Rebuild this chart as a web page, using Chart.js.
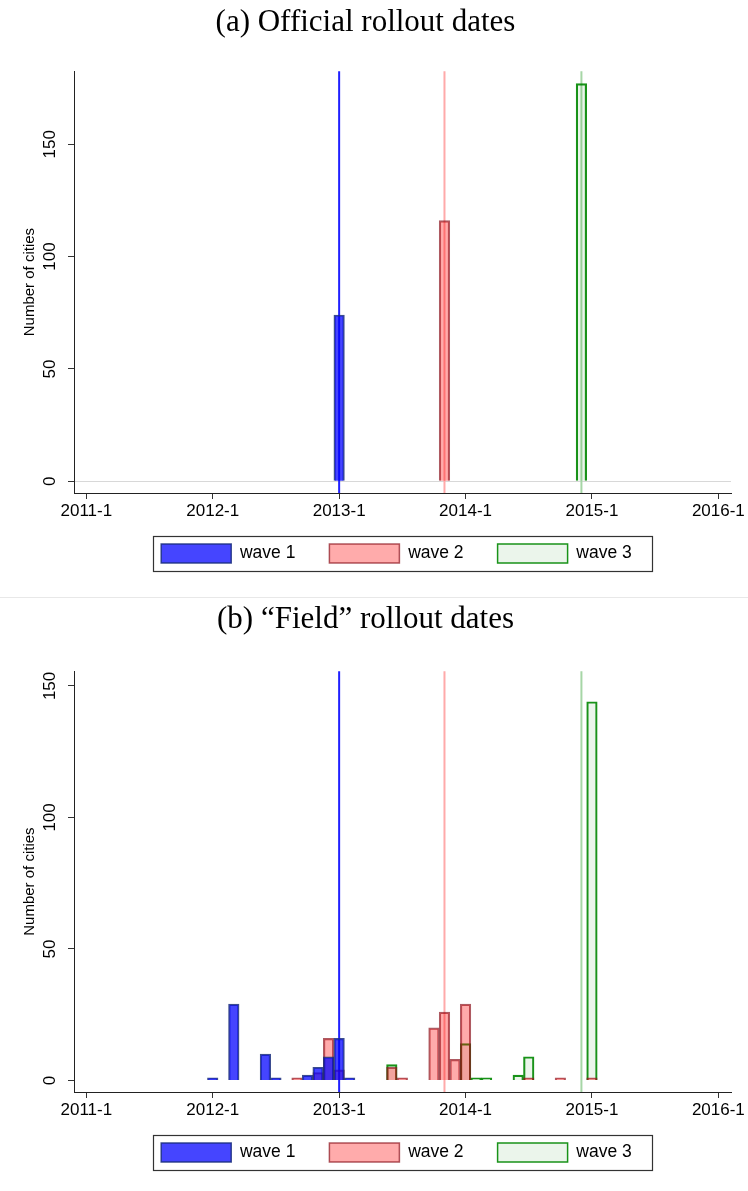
<!DOCTYPE html>
<html>
<head>
<meta charset="utf-8">
<script src="https://cdn.jsdelivr.net/npm/chart.js@4.4.1/dist/chart.umd.min.js"></script>
<style>
  html, body { margin: 0; padding: 0; background: #fff; }
  #panelA { position: absolute; left: 0; top: 0; }
  #panelB { position: absolute; left: 0; top: 597px; border-top: 1px solid #e8e8e8; }
  canvas { display: block; }
</style>
</head>
<body>
<div id="panelA"><canvas id="chartA" width="748" height="597"></canvas></div>
<div id="panelB"><canvas id="chartB" width="748" height="593"></canvas></div>
<script>
// wave names, axis ticks and the official start month of each wave
const waveNames = ["wave 1", "wave 2", "wave 3"];
const yearTicks = ["2011-1", "2012-1", "2013-1", "2014-1", "2015-1", "2016-1"];
const yTicks = [0, 50, 100, 150];
const waveStart = ["2013-1", "2013-11", "2014-12"];

// (a) official rollout dates
const officialMonths = ["2013-1", "2013-11", "2014-12"];
const officialCounts = [74, 116, 177];

// (b) "field" rollout dates, one pair of arrays per wave
const field1Months = ["2012-1", "2012-3", "2012-6", "2012-7", "2012-10", "2012-11", "2012-12", "2013-1", "2013-2"];
const field1Counts = [1, 29, 10, 1, 2, 5, 9, 16, 1];
const field2Months = ["2012-9", "2012-11", "2012-12", "2013-1", "2013-6", "2013-7", "2013-10", "2013-11", "2013-12", "2014-1", "2014-7", "2014-10", "2015-1"];
const field2Counts = [1, 3, 16, 4, 5, 1, 20, 26, 8, 29, 1, 1, 1];
const field3Months = ["2013-6", "2014-1", "2014-2", "2014-3", "2014-6", "2014-7", "2015-1"];
const field3Counts = [6, 14, 1, 1, 2, 9, 144];

const fills = ["rgba(0,0,255,0.73)", "rgba(255,0,0,0.33)", "rgba(0,128,0,0.08)"];
const edges = ["rgba(25,45,125,0.85)", "rgba(140,20,30,0.7)", "rgba(0,135,0,0.9)"];
const lineColors = ["#2020ff", "#ffaaaa", "#a6d6a6"];

Chart.defaults.font.family = "'Liberation Sans', Arial, sans-serif";
Chart.defaults.color = "#000";

// months counted from 2011-1
function monthIndex(s) {
  const [y, m] = s.split("-").map(Number);
  return (y - 2011) * 12 + m - 1;
}

// vertical lines at the official start of each wave, under the bars
const waveLines = {
  id: "waveLines",
  beforeDatasetsDraw(chart) {
    const { ctx, chartArea, scales: { x } } = chart;
    ctx.save();
    ctx.lineWidth = 2;
    waveStart.forEach((m, i) => {
      const px = x.getPixelForValue(monthIndex(m));
      ctx.strokeStyle = lineColors[i];
      ctx.beginPath();
      ctx.moveTo(px, chartArea.top);
      ctx.lineTo(px, chartArea.bottom);
      ctx.stroke();
    });
    ctx.restore();
  }
};

// legend placed under the plot region, with a black frame as in Stata
const legendFrame = {
  id: "legendFrame",
  afterLayout(chart) {
    const lg = chart.legend;
    const area = chart.chartArea;
    lg.left = area.left - 6;
    lg.right = area.right - 6;
    lg.width = lg.right - lg.left;
    lg.top = area.bottom + 51 - lg.options.labels.padding;
    lg.bottom = lg.top + lg.height;
  },
  afterDraw(chart) {
    const boxes = chart.legend.legendHitBoxes;
    if (!boxes || !boxes.length) return;
    const first = boxes[0], last = boxes[boxes.length - 1];
    const ctx = chart.ctx;
    ctx.save();
    ctx.strokeStyle = "#333";
    ctx.lineWidth = 1.2;
    const l = Math.round(first.left - 8) + 0.5;
    const r = Math.round(last.left + last.width + 20) + 0.5;
    const t = Math.round(first.top - 8) + 0.5;
    const b = Math.round(first.top + first.height + 8) + 0.5;
    ctx.strokeRect(l, t, r - l, b - t);
    ctx.restore();
  }
};

function buildChart(id, titleText, series, yMin, yMax, zeroLine, titlePad, bottomPad) {
  const datasets = series.map((s, i) => ({
    label: waveNames[i],
    data: s.months.map((m, j) => ({ x: monthIndex(m), y: s.counts[j] })),
    backgroundColor: fills[i],
    borderColor: edges[i],
    borderWidth: 1.5,
    grouped: false,
    barPercentage: 1,
    categoryPercentage: 1
  }));

  return new Chart(document.getElementById(id), {
    type: "bar",
    data: { datasets },
    options: {
      responsive: false,
      animation: false,
      layout: { padding: { left: 0, right: 17, top: 0, bottom: bottomPad } },
      plugins: {
        title: {
          display: true,
          text: titleText,
          color: "#000",
          font: { family: "'Liberation Serif', 'Times New Roman', serif", size: 31, weight: "normal" },
          padding: titlePad
        },
        legend: {
          position: "bottom",
          labels: {
            boxWidth: 70,
            boxHeight: 19,
            padding: 34,
            color: "#000",
            font: { size: 17.5 }
          }
        },
        tooltip: { enabled: false }
      },
      scales: {
        x: {
          type: "linear",
          offset: false,
          min: -1.17,
          max: 61.2,
          afterBuildTicks: (s) => {
            const t = [];
            for (let v = 0; v <= 61; v++) t.push({ value: v });
            s.ticks = t;
          },
          afterFit: (s) => { s.height = 30; },
          ticks: {
            autoSkip: false,
            maxRotation: 0,
            minRotation: 0,
            padding: 2,
            font: { size: 17 },
            color: "#000",
            callback: (v) => (v % 12 === 0 ? yearTicks[v / 12] : "")
          },
          grid: {
            offset: false,
            drawOnChartArea: false,
            tickLength: 6,
            tickWidth: 1,
            tickColor: (c) => (c.tick && c.tick.value % 12 === 0 ? "#333" : "rgba(0,0,0,0)")
          },
          border: { color: "#222", width: 1 }
        },
        y: {
          min: yMin,
          max: yMax,
          afterBuildTicks: (s) => { s.ticks = yTicks.map((v) => ({ value: v })); },
          afterFit: (s) => { s.width = 74; },
          ticks: {
            minRotation: 90,
            maxRotation: 90,
            crossAlign: "center",
            padding: 4,
            font: { size: 17 },
            color: "#000"
          },
          grid: {
            color: (c) => (zeroLine && c.tick && c.tick.value === 0 ? "#d8d8d8" : "rgba(0,0,0,0)"),
            tickColor: "#333",
            tickLength: 6
          },
          border: { color: "#222", width: 1 },
          title: {
            display: true,
            text: "Number of cities",
            color: "#000",
            font: { size: 15 },
            padding: { top: 21, bottom: 0 }
          }
        }
      }
    },
    plugins: [waveLines, legendFrame]
  });
}

buildChart("chartA", "(a) Official rollout dates",
  [
    { months: [officialMonths[0]], counts: [officialCounts[0]] },
    { months: [officialMonths[1]], counts: [officialCounts[1]] },
    { months: [officialMonths[2]], counts: [officialCounts[2]] }
  ],
  -5.2, 182.5, true, { top: 4, bottom: 30 }, 11);

buildChart("chartB", "(b) \u201cField\u201d rollout dates",
  [
    { months: field1Months, counts: field1Counts },
    { months: field2Months, counts: field2Counts },
    { months: field3Months, counts: field3Counts }
  ],
  -4.4, 155.6, false, { top: 3, bottom: 33 }, 6);
</script>
</body>
</html>
